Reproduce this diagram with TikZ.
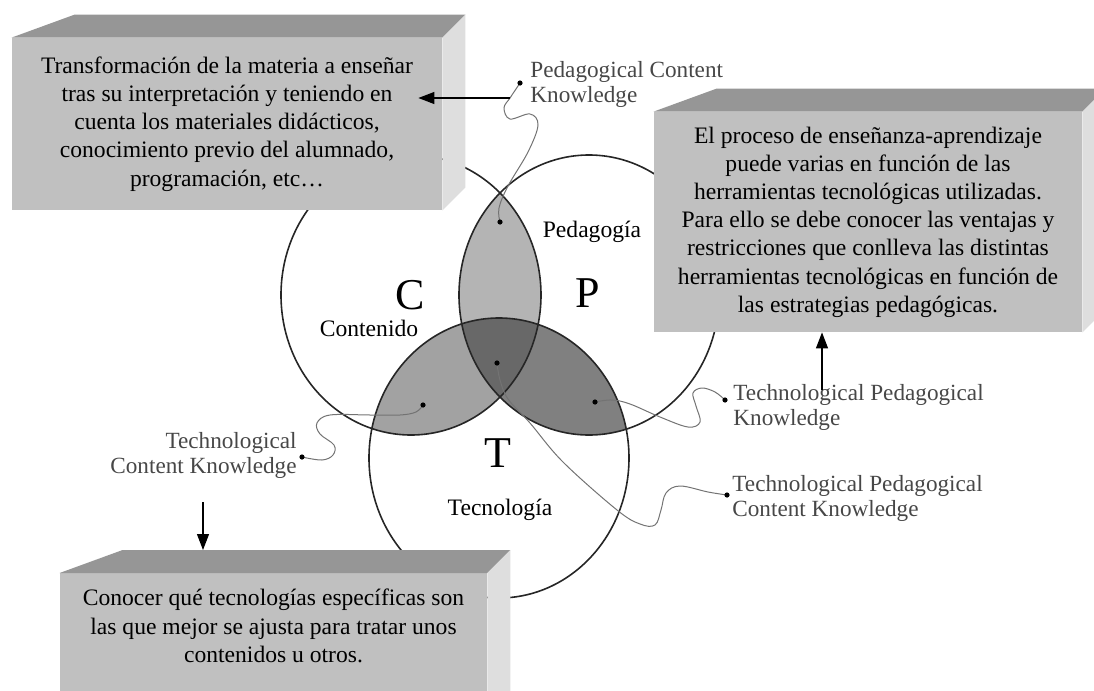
\documentclass[tikz,border=0pt]{standalone}
\usepackage{xcolor}
\usepackage{fontspec}
\setmainfont{Liberation Serif}
\usepackage{tikz}
\usetikzlibrary{arrows.meta, positioning, calc}

\definecolor{facefront}{HTML}{C0C0C0}
\definecolor{facetop}{HTML}{969696}
\definecolor{faceside}{HTML}{DEDEDE}
\definecolor{lensCP}{HTML}{B4B4B4}
\definecolor{lensCT}{HTML}{A2A2A2}
\definecolor{lensPT}{HTML}{808080}
\definecolor{lensCPT}{HTML}{686868}

% top and right faces of a solid box, drawn from its front node
\newcommand{\boxfaces}[1]{%
  \fill[facetop] (#1.north west) -- (#1.north east) -- ++(23,-23)
    -- ($(#1.north west)+(63,-23)$) -- cycle;
  \fill[faceside] (#1.north east) -- ++(23,-23)
    -- ($(#1.south east)+(23,-23)$) -- (#1.south east) -- cycle;
}

\begin{document}
\begin{tikzpicture}[
  x=0.5pt, y=-0.5pt,
  every node/.style={font=\fontsize{11.8}{14.1}\selectfont},
  % --- styles ---
  frontbox/.style={fill=facefront, inner sep=0pt, align=center},
  oval/.style={x radius=65pt, y radius=70pt},
  ring/.style={draw=black!85, line width=0.8pt},
  bigletter/.style={font=\fontsize{22}{26}\selectfont},
  lbl/.style={font=\fontsize{11.6}{12.5}\selectfont, text=black!72, inner sep=0pt},
  arr/.style={-{Triangle[length=8pt, width=6pt]}, line width=0.6pt},
  wavy/.style={draw=black!55, line width=0.5pt},
]
\useasboundingbox (0,0) rectangle (1094,691);

% ---------- Venn centres ----------
\coordinate (cC) at (411,295);
\coordinate (cP) at (589,295);
\coordinate (cT) at (499,458);

% ---------- Overlaps ----------
\begin{scope}
  \clip (cC) ellipse [oval];
  \fill[lensCP] (cP) ellipse [oval];
  \fill[lensCT] (cT) ellipse [oval];
\end{scope}
\begin{scope}
  \clip (cP) ellipse [oval];
  \fill[lensPT] (cT) ellipse [oval];
\end{scope}
\begin{scope}
  \clip (cC) ellipse [oval];
  \clip (cP) ellipse [oval];
  \fill[lensCPT] (cT) ellipse [oval];
\end{scope}

\foreach \c in {cC, cP, cT}
  \draw[ring] (\c) ellipse [oval];

% ---------- Letters and names ----------
\node[bigletter] (letC) at (410,295) {C};
\node[bigletter] (letP) at (588,293) {P};
\node[bigletter] (letT) at (498,453) {T};
\node (cont) at (369,328) {Contenido};
\node (peda) at (592,232) {Pedagogía};
\node (tecn) at (500,510) {Tecnología};

% ends of the curly pointers inside the overlaps
\coordinate (cpEnd)  at (500,222);
\coordinate (ctEnd)  at (423,405);
\coordinate (ptEnd)  at (595,402);
\coordinate (cptEnd) at (497,363);

% ---------- Box 1: top left ----------
\node[frontbox, minimum width=215pt, minimum height=86pt] (trans) at (227,124)
  {Transformación de la materia a enseñar\\
   tras su interpretación y teniendo en\\
   cuenta los materiales didácticos,\\
   conocimiento previo del alumnado,\\
   programación, etc…};
\boxfaces{trans}

% ---------- Box 2: right ----------
\node[frontbox, minimum width=214pt, minimum height=110pt] (proc) at (868,222)
  {El proceso de enseñanza-aprendizaje\\
   puede varias en función de las\\
   herramientas tecnológicas utilizadas.\\
   Para ello se debe conocer las ventajas y\\
   restricciones que conlleva las distintas\\
   herramientas tecnológicas en función de\\
   las estrategias pedagógicas.};
\boxfaces{proc}

% ---------- Box 3: bottom ----------
\node[frontbox, minimum width=213.5pt, minimum height=80pt, anchor=north]
  (conoc) at (273.5,573) {};
\boxfaces{conoc}
\node[align=center] (conoctxt) at ([yshift=-26.5pt]conoc.north)
  {Conocer qué tecnologías específicas son\\
   las que mejor se ajusta para tratar unos\\
   contenidos u otros.};
\coordinate (conocback) at ($(conoc.north west)+(63,-23)$);

% ---------- Knowledge labels ----------
\node[lbl, anchor=west, align=left] (pck) at (530,84.5)
  {Pedagogical Content\\Knowledge};
\node[lbl, anchor=east, align=right] (tck) at (297,455.5)
  {Technological\\Content Knowledge};
\node[lbl, anchor=west, align=left] (tpk) at (733,407)
  {Technological Pedagogical\\Knowledge};
\node[lbl, anchor=west, align=left] (tpck) at (732,498)
  {Technological Pedagogical\\Content Knowledge};

\coordinate (pckdot)  at (520,83);
\coordinate (tckdot)  at (302,457);
\coordinate (tpkdot)  at (725,400);
\coordinate (tpckdot) at (727,495);

% ---------- Curly pointers ----------
\coordinate (pckarr) at (510,98);
\draw[wavy] plot[smooth, tension=0.6] coordinates
  {(cpEnd) (499,208) (508,186) (528,152) (538,125) (530,114) (510,119)
   (504,108) (pckarr) (516,89) (pckdot)};
\draw[wavy] plot[smooth, tension=0.6] coordinates
  {(ctEnd) (416,412) (400,415) (370,415) (330,415) (317,423) (320,434)
   (334,445) (333,455) (322,460) (tckdot)};
\draw[wavy] plot[smooth, tension=0.6] coordinates
  {(ptEnd) (612,400) (630,404) (660,417) (688,427) (700,422) (696,406)
   (693,393) (702,388) (715,392) (tpkdot)};
\draw[wavy] plot[smooth, tension=0.6] coordinates
  {(cptEnd) (500,380) (508,399) (530,423) (563,462) (617,510) (640,524)
   (655,525) (661,510) (666,493) (680,486) (708,492) (tpckdot)};

\foreach \p in {cpEnd, ctEnd, ptEnd, cptEnd, pckdot, tckdot, tpkdot, tpckdot}
  \fill (\p) circle (1.3pt);

% ---------- Arrows to the boxes ----------
\coordinate (tpkarr) at (822,390);
\coordinate (tckarr) at (203,502);
\draw[arr] (pckarr) -- ($(pckarr -| trans.east)+(-24,0)$);
\draw[arr] (tpkarr) -- (tpkarr |- proc.south);
\draw[arr] (tckarr) -- (tckarr |- conocback);

\end{tikzpicture}
\end{document}
